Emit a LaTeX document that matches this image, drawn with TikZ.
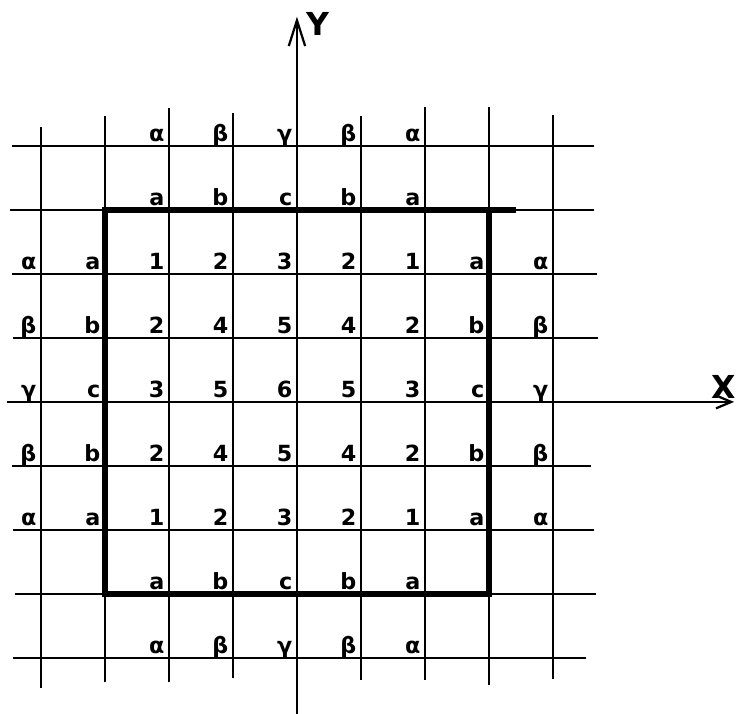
\documentclass[tikz,border=0pt]{standalone}
\usepackage{fontspec}
\setmainfont{DejaVu Sans}
\usetikzlibrary{arrows.meta}
\begin{document}
\begin{tikzpicture}[x=1.92cm, y=1.92cm, line width=1.9pt,
    lab/.style={anchor=base east, inner sep=0pt, xshift=-3pt, yshift=4pt, font=\fontsize{19}{21}\selectfont\bfseries},
    axlab/.style={font=\fontsize{27}{29}\selectfont\bfseries}]
  \useasboundingbox (-4.64,-4.875) rectangle (6.86,6.28);
  % 1. vertical grid lines
  \draw (-4,-4.47) -- (-4,4.30);
  \draw (-3,-4.38) -- (-3,4.47);
  \draw (-2,-4.38) -- (-2,4.59);
  \draw (-1,-4.31) -- (-1,4.52);
  \draw (1,-4.34) -- (1,4.47);
  \draw (2,-4.34) -- (2,4.61);
  \draw (3,-4.42) -- (3,4.61);
  \draw (4,-4.33) -- (4,4.48);

  % 2. horizontal grid lines
  \draw (-4.45,4) -- (4.64,4);
  \draw (-4.48,3) -- (4.64,3);
  \draw (-4.45,2) -- (4.69,2);
  \draw (-4.44,1) -- (4.70,1);
  \draw (-4.45,-1) -- (4.59,-1);
  \draw (-4.44,-2) -- (4.64,-2);
  \draw (-4.41,-3) -- (4.67,-3);
  \draw (-4.44,-4) -- (4.52,-4);

  % 3. thick square
  \draw[line width=5pt, line join=miter] (3.42,3) -- (-3,3) -- (-3,-3) -- (3,-3) -- (3,3);

  % 4. axes
  \draw[-{Straight Barb[length=22pt,width=14pt]}] (0,-4.875) -- (0,6.02);
  \node[axlab] (ylab) at (0.33,5.9) {Y};
  \draw[-{Straight Barb[length=13pt,width=11pt]}] (-4.53,0) -- (6.83,0);
  \node[axlab] (xlab) at (6.67,0.24) {X};

  % 5. labels
  \foreach \j/\vals in {4/{α,β,γ,β,α}, 3/{a,b,c,b,a}, -3/{a,b,c,b,a}, -4/{α,β,γ,β,α}}
    \foreach \v [count=\i from -2] in \vals
      \node[lab] (e\i\j) at (\i,\j) {\v};
  \foreach \j/\vals in {2/{α,a,1,2,3,2,1,a,α}, 1/{β,b,2,4,5,4,2,b,β}, 0/{γ,c,3,5,6,5,3,c,γ},
      -1/{β,b,2,4,5,4,2,b,β}, -2/{α,a,1,2,3,2,1,a,α}}
    \foreach \v [count=\i from -4] in \vals
      \node[lab] (m\i\j) at (\i,\j) {\v};
\end{tikzpicture}
\end{document}
